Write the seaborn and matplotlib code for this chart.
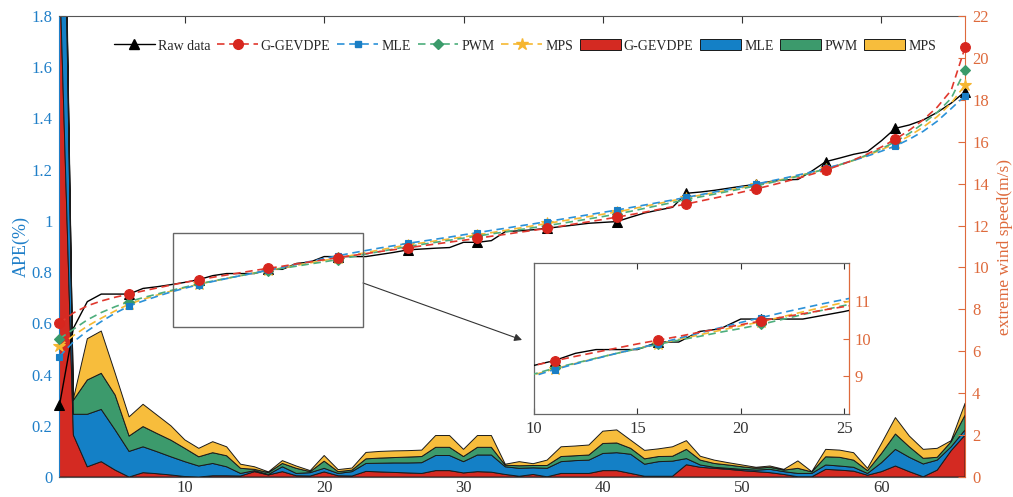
import numpy as np
import pandas as pd
import matplotlib
matplotlib.use("Agg")
import matplotlib.pyplot as plt
from matplotlib.lines import Line2D
from matplotlib.patches import Rectangle
from matplotlib.ticker import FuncFormatter
import seaborn as sns

# ---------------------------------------------------------------- data
sample_no = np.arange(1, 67)

raw_speed = [3.42, 7.10, 8.37, 8.73, 8.73, 8.73, 9.00, 9.08, 9.18, 9.29,
             9.42, 9.61, 9.71, 9.71, 9.71, 9.91, 9.91, 10.19, 10.26, 10.52,
             10.52, 10.52, 10.52, 10.62, 10.72, 10.84, 10.88, 10.92, 10.95, 11.20,
             11.20, 11.28, 11.71, 11.75, 11.80, 11.87, 11.95, 12.03, 12.11, 12.15,
             12.19, 12.40, 12.60, 12.74, 12.87, 13.54, 13.60, 13.68, 13.78, 13.88,
             13.97, 14.10, 14.18, 14.20, 14.60, 15.05, 15.22, 15.40, 15.53, 16.05,
             16.64, 16.80, 17.04, 17.40, 17.84, 18.39]

gg_speed = [7.34, 7.83, 8.17, 8.40, 8.58, 8.73, 8.88, 9.02, 9.16, 9.29,
            9.41, 9.53, 9.64, 9.75, 9.86, 9.96, 10.06, 10.17, 10.27, 10.37,
            10.47, 10.57, 10.66, 10.76, 10.85, 10.94, 11.03, 11.12, 11.21, 11.30,
            11.39, 11.49, 11.58, 11.68, 11.77, 11.87, 11.97, 12.08, 12.18, 12.29,
            12.40, 12.52, 12.64, 12.77, 12.90, 13.03, 13.17, 13.31, 13.45, 13.60,
            13.75, 13.91, 14.08, 14.26, 14.45, 14.65, 14.88, 15.13, 15.42, 15.75,
            16.12, 16.55, 17.05, 17.65, 18.45, 20.50]

mle_speed = [5.75, 6.45, 6.97, 7.42, 7.82, 8.16, 8.40, 8.62, 8.83, 9.01,
             9.18, 9.33, 9.47, 9.61, 9.74, 9.87, 10.01, 10.15, 10.29, 10.43,
             10.56, 10.69, 10.81, 10.93, 11.04, 11.15, 11.25, 11.35, 11.45, 11.56,
             11.66, 11.77, 11.87, 11.98, 12.08, 12.19, 12.30, 12.41, 12.52, 12.63,
             12.74, 12.86, 12.98, 13.10, 13.22, 13.35, 13.47, 13.60, 13.72, 13.85,
             13.98, 14.12, 14.26, 14.41, 14.56, 14.73, 14.91, 15.11, 15.32, 15.55,
             15.80, 16.12, 16.50, 16.98, 17.58, 18.20]

pwm_speed = [6.60, 7.05, 7.50, 7.85, 8.13, 8.37, 8.56, 8.73, 8.90, 9.06,
             9.22, 9.35, 9.48, 9.61, 9.73, 9.85, 9.96, 10.06, 10.17, 10.27,
             10.38, 10.51, 10.64, 10.76, 10.88, 11.00, 11.10, 11.20, 11.30, 11.40,
             11.50, 11.60, 11.70, 11.80, 11.90, 12.00, 12.10, 12.21, 12.32, 12.43,
             12.55, 12.68, 12.82, 12.96, 13.10, 13.24, 13.37, 13.50, 13.63, 13.76,
             13.90, 14.04, 14.19, 14.35, 14.52, 14.70, 14.90, 15.12, 15.38, 15.67,
             16.00, 16.40, 16.88, 17.40, 18.07, 19.40]

mps_speed = [6.23, 6.75, 7.20, 7.58, 7.93, 8.25, 8.48, 8.68, 8.87, 9.04,
             9.20, 9.34, 9.48, 9.61, 9.74, 9.86, 9.98, 10.10, 10.22, 10.34,
             10.45, 10.58, 10.71, 10.84, 10.96, 11.08, 11.17, 11.27, 11.36, 11.46,
             11.55, 11.66, 11.77, 11.88, 11.99, 12.10, 12.21, 12.32, 12.43, 12.54,
             12.65, 12.78, 12.92, 13.05, 13.19, 13.33, 13.45, 13.57, 13.69, 13.81,
             13.93, 14.07, 14.22, 14.37, 14.53, 14.70, 14.90, 15.11, 15.35, 15.62,
             15.92, 16.28, 16.70, 17.20, 17.84, 18.70]

ape_gg = [2.000, 0.164, 0.040, 0.060, 0.027, 0.000, 0.017, 0.013, 0.008, 0.002,
          0.000, 0.005, 0.005, 0.004, 0.021, 0.008, 0.021, 0.005, 0.004, 0.020,
          0.005, 0.004, 0.022, 0.020, 0.018, 0.016, 0.014, 0.025, 0.025, 0.016,
          0.021, 0.019, 0.010, 0.003, 0.010, 0.001, 0.014, 0.014, 0.014, 0.025,
          0.025, 0.014, 0.003, 0.003, 0.003, 0.048, 0.038, 0.034, 0.030, 0.025,
          0.021, 0.017, 0.010, 0.001, 0.001, 0.030, 0.027, 0.023, 0.007, 0.021,
          0.043, 0.021, 0.001, 0.027, 0.103, 0.164]

ape_mle = [1.500, 0.081, 0.205, 0.204, 0.157, 0.100, 0.101, 0.086, 0.071, 0.058,
           0.043, 0.048, 0.035, 0.010, 0.004, 0.002, 0.019, 0.009, 0.013, 0.014,
           0.009, 0.017, 0.031, 0.034, 0.037, 0.039, 0.042, 0.059, 0.059, 0.044,
           0.065, 0.067, 0.030, 0.031, 0.026, 0.033, 0.046, 0.050, 0.052, 0.067,
           0.070, 0.075, 0.047, 0.057, 0.059, 0.024, 0.009, 0.004, 0.004, 0.005,
           0.006, 0.013, 0.011, 0.013, 0.013, 0.017, 0.016, 0.015, 0.007, 0.035,
           0.065, 0.056, 0.050, 0.039, 0.015, 0.020]

ape_pwm = [0.120, 0.055, 0.134, 0.141, 0.136, 0.060, 0.079, 0.071, 0.065, 0.052,
           0.036, 0.042, 0.043, 0.020, 0.005, 0.007, 0.013, 0.020, 0.004, 0.028,
           0.007, 0.006, 0.018, 0.020, 0.021, 0.023, 0.024, 0.032, 0.032, 0.020,
           0.030, 0.030, 0.006, 0.010, 0.009, 0.011, 0.020, 0.019, 0.020, 0.039,
           0.038, 0.023, 0.021, 0.020, 0.019, 0.036, 0.019, 0.015, 0.013, 0.010,
           0.007, 0.008, 0.006, 0.020, 0.006, 0.032, 0.034, 0.028, 0.011, 0.036,
           0.060, 0.041, 0.022, 0.011, 0.020, 0.058]

ape_mps = [0.100, 0.005, 0.161, 0.165, 0.085, 0.075, 0.087, 0.072, 0.056, 0.033,
           0.033, 0.043, 0.035, 0.016, 0.010, 0.003, 0.011, 0.009, 0.004, 0.022,
           0.008, 0.008, 0.025, 0.026, 0.026, 0.025, 0.025, 0.046, 0.046, 0.028,
           0.046, 0.046, 0.004, 0.016, 0.007, 0.021, 0.038, 0.038, 0.039, 0.048,
           0.051, 0.032, 0.033, 0.030, 0.037, 0.034, 0.015, 0.013, 0.009, 0.007,
           0.004, 0.005, 0.003, 0.029, 0.001, 0.029, 0.028, 0.029, 0.009, 0.039,
           0.064, 0.042, 0.035, 0.035, 0.004, 0.046]

method_names = ["G-GEVDPE", "MLE", "PWM", "MPS"]

# ---------------------------------------------------------------- style
sns.set_theme(style="ticks")
plt.rcParams["font.family"] = ["Liberation Serif", "DejaVu Serif"]
plt.rcParams["axes.linewidth"] = 0.8

AX_BLUE = "#1F7FC8"
AX_ORANGE = "#DE6A3C"
DARK = "#333333"

fill_colors = ["#D42A22", "#1480C6", "#3C9A6C", "#F7BD3C"]
line_colors = ["#E0382E", "#2B91D8", "#4DAE7C", "#F6B932"]
mark_colors = ["#D7261E", "#1A7EC4", "#3A9A6A", "#F6B630"]
mark_shapes = ["o", "s", "D", "*"]
mark_sizes = [7, 5, 5.5, 9]

speed_df = pd.DataFrame({"No": sample_no, "Raw data": raw_speed,
                         "G-GEVDPE": gg_speed, "MLE": mle_speed,
                         "PWM": pwm_speed, "MPS": mps_speed})

DASH = (0, (4.5, 2.8))


def draw_speed_lines(target, clip):
    """Raw data and the four fitted curves, markers every 5th sample."""
    sns.lineplot(data=speed_df, x="No", y="Raw data", ax=target, color="black",
                 lw=1.0, marker="^", markersize=7, markevery=5,
                 markerfacecolor="black", markeredgecolor="black",
                 legend=False, clip_on=clip, zorder=3)
    # draw order: MPS, PWM, MLE, then G-GEVDPE on top
    for i in [3, 2, 1, 0]:
        sns.lineplot(data=speed_df, x="No", y=method_names[i], ax=target,
                     color=line_colors[i], lw=1.2, linestyle=DASH,
                     marker=mark_shapes[i], markersize=mark_sizes[i],
                     markevery=5, markerfacecolor=mark_colors[i],
                     markeredgecolor=mark_colors[i], markeredgewidth=0.8,
                     legend=False, clip_on=clip, zorder=4)


# ---------------------------------------------------------------- figure
fig = plt.figure(figsize=(10.13, 4.97), dpi=100)
ax = fig.add_axes([0.0587, 0.0402, 0.894, 0.9276])
ax2 = ax.twinx()

# stacked absolute percentage errors on the left axis
polys = ax.stackplot(sample_no, ape_gg, ape_mle, ape_pwm, ape_mps,
                     colors=fill_colors, edgecolor="#1a1a1a", linewidth=0.7,
                     labels=method_names)

# wind speed curves on the right axis
draw_speed_lines(ax2, clip=False)

# zoom window and pointer to the inset
ax2.add_patch(Rectangle((9.12, 7.15), 22.79 - 9.12, 11.66 - 7.15,
                        fill=False, ec="#666666", lw=1.0, zorder=5))
ax2.annotate("", xy=(34.2, 6.54), xytext=(22.79, 9.26),
             arrowprops=dict(arrowstyle="-|>", color="#333333", lw=0.8,
                             mutation_scale=11, shrinkA=0, shrinkB=0))

# axes limits and ticks
ax.set_xlim(1, 66)
ax.set_ylim(0, 1.8)
ax2.set_ylim(0, 22)
ax.set_xticks([10, 20, 30, 40, 50, 60])
ax.set_yticks(np.round(np.arange(0, 1.81, 0.2), 1))
ax2.set_yticks(np.arange(0, 23, 2))
fmt = FuncFormatter(lambda v, p: f"{v:g}")
ax.yaxis.set_major_formatter(fmt)
ax2.yaxis.set_major_formatter(fmt)

ax.tick_params(axis="x", direction="in", top=True, length=5, width=0.8,
               color=DARK, labelcolor=DARK, labelsize=12, pad=2)
ax.tick_params(axis="y", direction="in", length=5, width=0.8,
               color=AX_BLUE, labelcolor=AX_BLUE, labelsize=12, pad=5)
ax2.tick_params(axis="y", direction="in", length=5, width=0.8,
                color=AX_ORANGE, labelcolor=AX_ORANGE, labelsize=12, pad=5)

for s in ["top", "bottom"]:
    ax.spines[s].set_color("#555555")
    ax2.spines[s].set_visible(False)
ax.spines["left"].set_color(AX_BLUE)
ax.spines["right"].set_visible(False)
ax2.spines["left"].set_visible(False)
ax2.spines["right"].set_color(AX_ORANGE)

ax.set_xlabel("")
ax.set_ylabel("APE(%)", color=AX_BLUE, fontsize=13)
ax.yaxis.set_label_coords(-0.033, 0.5)
ax2.set_xlabel("")
ax2.set_ylabel("extreme wind speed(m/s)", color=AX_ORANGE, fontsize=12.5,
               labelpad=6, rotation=90)

# legend: line entries then filled entries
line_handles = [Line2D([], [], color="black", lw=1.0, marker="^",
                       markersize=7, markerfacecolor="black",
                       markeredgecolor="black")]
for i in range(4):
    line_handles.append(Line2D([], [], color=line_colors[i], lw=1.2,
                               linestyle=DASH, marker=mark_shapes[i],
                               markersize=mark_sizes[i],
                               markerfacecolor=mark_colors[i],
                               markeredgecolor=mark_colors[i]))
handles = line_handles + list(polys)
labels = ["Raw data"] + method_names + method_names
ax2.legend(handles, labels, ncol=9, loc="center",
           bbox_to_anchor=(0.514, 0.935), frameon=False, fontsize=10,
           handlelength=2.95, handleheight=0.85, handletextpad=0.2,
           columnspacing=0.5, borderpad=0.2)

# ---------------------------------------------------------------- inset
ax_in = fig.add_axes([534 / 1013, (497 - 414) / 497, 315.3 / 1013, 150.7 / 497])
ax_in.set_facecolor("white")
draw_speed_lines(ax_in, clip=True)
ax_in.set_xlim(10, 25.25)
ax_in.set_ylim(8, 12)
ax_in.set_xticks([10, 15, 20, 25])
ax_in.set_yticks([9, 10, 11])
ax_in.yaxis.tick_right()
ax_in.set_xlabel("")
ax_in.set_ylabel("")
ax_in.tick_params(axis="x", direction="in", top=True, length=4, width=0.8,
                  color=DARK, labelcolor=DARK, labelsize=12, pad=5)
ax_in.tick_params(axis="y", direction="in", length=4, width=0.8,
                  color=AX_ORANGE, labelcolor=AX_ORANGE, labelsize=12, pad=4)
for s in ["top", "bottom", "left"]:
    ax_in.spines[s].set_color("#666666")
    ax_in.spines[s].set_linewidth(0.9)
ax_in.spines["right"].set_color(AX_ORANGE)
ax_in.spines["right"].set_linewidth(0.9)

fig.savefig("out.png", dpi=100)
